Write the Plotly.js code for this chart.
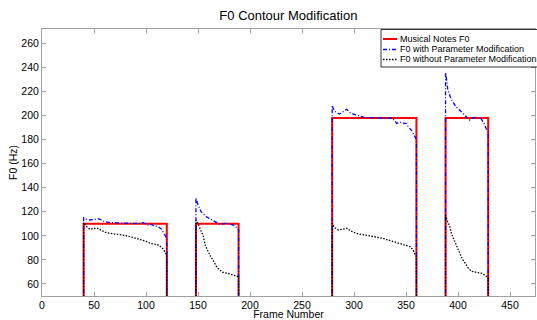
<!DOCTYPE html>
<html>
<head>
<meta charset="utf-8">
<script src="https://cdn.plot.ly/plotly-3.0.1.min.js"></script>
<style>html,body{margin:0;padding:0;background:#fff;}#chart{width:537px;height:320px;}</style>
</head>
<body>
<div id="chart"></div>
<script>
// Musical note boundaries (frame numbers) and target F0 (Hz)
const noteStart = [40, 148, 279, 388];
const noteEnd   = [120, 189, 360, 429];
const noteF0    = [110, 110, 198, 198];

// F0 with parameter modification (per note)
const modFrames = [
  [40,43,46,51,54,57,60,65,75,85,94,97,102,105,108,112,115,117,120],
  [148,150,153,158,163,167,171,177,184,188,189],
  [279,280,282,286,290,293,297,300,304,310,320,330,336,339,341,344,346,348,350,352,355,357,359,360],
  [388,389,390,393,396,398,401,403,406,408,411,413,416,419,422,425,427,429]
];
const modValues = [
  [115,113.7,113.2,113.7,114.3,113.2,111.8,111,110.4,110.4,110.4,111,109,109.6,108.2,107.6,105.4,102.1,98],
  [131.7,125.6,120.1,115.9,113.2,111.5,109.6,110.4,109,106.3,105],
  [208.7,206,203.2,201.3,203.5,205.2,201.8,201,200.4,198.5,198,198,198,196,193.5,194.4,194.4,193.5,193.5,191,188,185,182.4,180],
  [235.9,230,222.6,214.3,210,207.3,205,203.2,201,199,196.3,197.5,198.4,198,197.7,193.5,189.4,187]
];

// F0 without parameter modification (per note)
const rawFrames = [
  [40,43,46,51,54,57,62,70,78,86,94,100,104,108,112,116,118,120],
  [148,150,152,155,157,160,162,165,168,171,174,178,182,186,189],
  [279,281,285,289,293,297,302,308,315,321,328,333,338,343,347,351,354,357,358,360],
  [388,390,392,394,397,399,402,404,407,410,413,418,423,428,429]
];
const rawValues = [
  [111,107.6,105.4,106.3,106.3,104.6,102.6,101.5,100.7,99,97.1,95.5,93.8,93,92.4,89.6,87,84],
  [113,110,106,100,92,86,83,79,74,71.5,69.7,69,68,67,66],
  [110.4,107,104.9,105.5,106.3,104,102.1,101,99.9,99,98,96.5,95.2,94,93.2,92,91,88,85.5,82.7],
  [117.3,111.8,108,101,95,90,85,81,77,73,70.5,69.5,68.8,66,66]
];

const seriesNames = ['Musical Notes F0', 'F0 with Parameter Modification', 'F0 without Parameter Modification'];
const xTicks = [0,50,100,150,200,250,300,350,400,450];
const yTicks = [60,80,100,120,140,160,180,200,220,240,260];

// Between notes the F0 is zero (off the visible range): build the full contours.
function buildSeries(framesList, valuesList) {
  const x = [], y = [];
  framesList.forEach((fr, i) => {
    if (i > 0) { x.push(null); y.push(null); }
    x.push(fr[0]); y.push(0);
    fr.forEach((f, j) => { x.push(f); y.push(valuesList[i][j]); });
    x.push(fr[fr.length - 1]); y.push(0);
  });
  return {x, y};
}
const notesSeries = buildSeries(
  noteStart.map((s, i) => [s, noteEnd[i]]),
  noteF0.map(v => [v, v])
);
const modSeries = buildSeries(modFrames, modValues);
const rawSeries = buildSeries(rawFrames, rawValues);

const styles = [
  {color: '#ff0000', width: 2, dash: 'solid'},
  {color: '#0000ff', width: 1.3, dash: '4px,2px,1px,2px'},
  {color: '#000000', width: 1.3, dash: '1.5px,1.5px'}
];
const allSeries = [notesSeries, modSeries, rawSeries];

const traces = allSeries.map((s, i) => ({
  x: s.x, y: s.y, mode: 'lines', name: seriesNames[i],
  line: styles[i], connectgaps: false, showlegend: false
}));

// Compact legend box (MATLAB style) drawn in paper coordinates
const plotL = 42, plotR = 535, plotT = 29, plotB = 296;
const px2x = p => (p - plotL) / (plotR - plotL);
const px2y = p => (plotB - p) / (plotB - plotT);
const legLeft = 381, legTop = 29.5, legBottom = 67, legRows = [39, 49.5, 59.5];
const shapes = [{
  type: 'rect', xref: 'paper', yref: 'paper',
  x0: px2x(legLeft), x1: px2x(545), y0: px2y(legBottom), y1: px2y(legTop),
  fillcolor: '#ffffff', line: {color: '#000', width: 0.8}, layer: 'above'
}];
const annotations = [];
seriesNames.forEach((nm, i) => {
  shapes.push({
    type: 'line', xref: 'paper', yref: 'paper',
    x0: px2x(383), x1: px2x(397), y0: px2y(legRows[i]), y1: px2y(legRows[i]),
    line: {color: styles[i].color, width: styles[i].width, dash: styles[i].dash}, layer: 'above'
  });
  annotations.push({
    xref: 'paper', yref: 'paper', x: px2x(399), y: px2y(legRows[i]),
    xanchor: 'left', yanchor: 'middle', showarrow: false, text: nm,
    font: {size: 9, color: '#000'}, borderpad: 0
  });
});

const axisCommon = {
  showgrid: false, zeroline: false, showline: true, linecolor: '#a0a0a0', linewidth: 1,
  mirror: 'ticks', ticks: 'inside', ticklen: 4, tickcolor: '#a0a0a0', tickwidth: 1,
  tickfont: {family: 'Liberation Sans, Arial, sans-serif', size: 10.5, color: '#000'}
};

const layout = {
  width: 537, height: 320,
  margin: {l: plotL, r: 537 - plotR, t: plotT, b: 320 - plotB, pad: 0},
  paper_bgcolor: '#fff', plot_bgcolor: '#fff',
  font: {family: 'Liberation Sans, Arial, sans-serif', color: '#000'},
  title: {text: 'F0 Contour Modification', x: 0.537, xanchor: 'center', y: 0.953, yanchor: 'middle',
          font: {size: 13, color: '#000'}},
  xaxis: Object.assign({}, axisCommon, {
    range: [0, 474], tickvals: xTicks, ticktext: xTicks.map(String), automargin: false,
    ticklabelstandoff: -1,
    title: {text: 'Frame Number', font: {size: 10.5}, standoff: 6}
  }),
  yaxis: Object.assign({}, axisCommon, {
    range: [50, 272], tickvals: yTicks, ticktext: yTicks.map(String), automargin: false,
    title: {text: 'F0 (Hz)', font: {size: 10.5}, standoff: 1}
  }),
  showlegend: false,
  shapes: shapes,
  annotations: annotations
};

Plotly.newPlot('chart', traces, layout, {displayModeBar: false, staticPlot: true});
</script>
</body>
</html>
